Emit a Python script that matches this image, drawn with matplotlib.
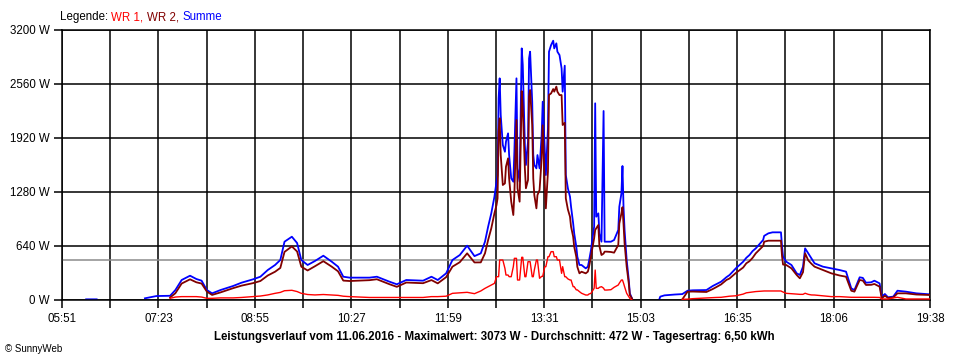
import numpy as np
import matplotlib
matplotlib.use('Agg')
import matplotlib.pyplot as plt

# Leistungsverlauf 11.06.2016 (Werte in W)
zeit = ['06:14', '06:24', '06:25', '07:10', '07:16', '07:21', '07:34', '07:39', '07:45', '07:53', '07:59',
        '08:04', '08:09', '08:14', '08:22', '08:34', '08:42', '08:53', '09:00', '09:07', '09:14',
        '09:19', '09:23', '09:30', '09:35', '09:39', '09:45', '09:52', '10:00', '10:08', '10:14',
        '10:19', '10:25', '10:44', '10:51', '11:03', '11:10', '11:19', '11:35', '11:43', '11:49',
        '11:57', '12:03', '12:10', '12:17', '12:24', '12:30', '12:34', '12:37', '12:40', '12:43',
        '12:45', '12:46', '12:47', '12:48', '12:49', '12:51', '12:53', '12:54', '12:56', '12:57',
        '12:59', '13:01', '13:02', '13:04', '13:05', '13:07', '13:09', '13:10', '13:12', '13:13',
        '13:15', '13:16', '13:17', '13:19', '13:20', '13:21', '13:23', '13:24', '13:26', '13:28',
        '13:29', '13:31', '13:32', '13:34', '13:35', '13:37', '13:39', '13:40', '13:42', '13:43',
        '13:45', '13:47', '13:48', '13:50', '13:51', '13:53', '13:55', '13:56', '13:58', '13:59',
        '14:01', '14:02', '14:04', '14:06', '14:10', '14:12', '14:13', '14:15', '14:16', '14:18',
        '14:19', '14:20', '14:22', '14:23', '14:25', '14:27', '14:28', '14:30', '14:34', '14:37',
        '14:41', '14:42', '14:44', '14:45', '14:46', '14:47', '14:49', '14:51', '14:52', '14:54',
        '14:55', '15:20', '15:21', '15:25', '15:35', '15:42', '15:47', '15:52', '16:05', '16:11',
        '16:14', '16:19', '16:24', '16:27', '16:33', '16:40', '16:43', '16:46', '16:49', '16:52',
        '16:59', '17:00', '17:04', '17:08', '17:16', '17:17', '17:18', '17:21', '17:26', '17:31',
        '17:34', '17:37', '17:39', '17:42', '17:45', '17:48', '17:56', '18:04', '18:12', '18:18',
        '18:23', '18:26', '18:31', '18:34', '18:37', '18:42', '18:45', '18:50', '18:52', '18:55',
        '18:58', '19:03', '19:07', '19:15', '19:25', '19:38']

wr1 = [None, None, None, None, None, None, 20, 35, 40, 40, 40,
       35, 20, 20, 25, 25, 30, 40, 47, 60, 79,
       90, 110, 115, 100, 79, 65, 60, 65, 59, 55,
       45, 40, 30, 30, 30, 30, 30, 30, 40, 40,
       45, 79, 85, 91, 75, 107, 138, 158, 178, 197,
       276, 276, 276, 474, 474, 474, 375, 296, 296, 276,
       276, 395, 494, 494, 237, 237, 506, 506, 276, 276,
       454, 454, 454, 276, 276, 355, 474, 474, 257, 280,
       280, 395, 395, 513, 513, 573, 573, 513, 513, 474,
       474, 316, 395, 276, 276, 250, 237, 237, 158, 158,
       120, 120, 99, 80, 59, 59, 70, 79, 100, 138,
       355, 138, 138, 150, 158, 140, 118, 118, 122, 150,
       178, 200, 237, 237, 200, 158, 79, 40, 20, 0,
       None, None, None, None, None, 8, 10, 16, 25, 30,
       30, 32, 40, 45, 50, 70, 85, 90, 95, 100,
       107, 107, 107, 107, 107, 100, 95, 79, 75, 70,
       67, 67, 80, 67, 60, 59, 50, 40, 40, 35,
       32, 32, 32, 32, 32, 32, 32, 30, 12, 12,
       12, 25, 32, 12, 12, 12]

wr2 = [None, None, None, None, None, None, 30, 80, 195, 245, 210,
       195, 100, 60, 90, 140, 170, 200, 225, 290, 335,
       380, 570, 635, 575, 395, 350, 400, 460, 395, 340,
       230, 225, 235, 246, 187, 156, 207, 199, 236, 197,
       271, 395, 448, 553, 445, 446, 553, 711, 849, 1027,
       1126, 1205, 2000, 2153, 1718, 1363, 1382, 1580, 1679, 1442,
       1166, 1007, 1263, 2133, 1323, 1165, 2476, 2279, 1561, 1324,
       1422, 2410, 2489, 2074, 1442, 1245, 1086, 1244, 1303, 1675,
       2070, 1362, 1086, 1522, 2430, 2449, 2500, 2469, 2529, 2469,
       2429, 2429, 2074, 2100, 1205, 1073, 987, 869, 751, 632,
       512, 393, 316, 335, 316, 336, 384, 513, 591, 731,
       830, 849, 889, 640, 533, 550, 573, 573, 569, 561,
       652, 906, 1027, 1100, 900, 672, 395, 197, 59, 20,
       None, None, None, None, None, 8, 99, 100, 95, 130,
       150, 185, 237, 255, 320, 385, 435, 460, 500, 553,
       640, 691, 703, 703, 703, 520, 420, 415, 375, 296,
       257, 330, 553, 470, 430, 395, 355, 316, 290, 276,
       110, 99, 237, 230, 178, 180, 190, 158, 20, 50,
       25, 30, 79, 79, 65, 59]

summe = [8, 8, None, 20, 35, 47, 50, 118, 237, 288, 249,
         229, 118, 79, 118, 166, 205, 245, 276, 355, 415,
         474, 691, 750, 675, 474, 415, 462, 525, 454, 395,
         276, 265, 265, 276, 217, 186, 237, 229, 276, 237,
         316, 474, 533, 644, 520, 553, 691, 869, 1027, 1224,
         1402, 1481, 2390, 2627, 2192, 1837, 1757, 1876, 1975, 1718,
         1442, 1402, 1757, 2627, 1560, 1402, 2982, 2785, 1837, 1600,
         1876, 2864, 2943, 2350, 1718, 1600, 1560, 1718, 1560, 1955,
         2350, 1757, 1481, 2035, 2943, 3022, 3073, 2982, 3042, 2943,
         2903, 2745, 2469, 2777, 1481, 1323, 1224, 1106, 909, 790,
         632, 513, 415, 415, 375, 395, 454, 592, 691, 869,
         2331, 987, 1027, 790, 691, 2240, 691, 691, 691, 711,
         830, 1106, 1264, 1588, 1100, 830, 474, 237, 79, 20,
         None, 5, 40, 55, 65, 70, 110, 115, 118, 166,
         185, 217, 270, 296, 375, 454, 500, 533, 580, 612,
         711, 760, 790, 802, 802, 640, 513, 454, 415, 316,
         296, 395, 612, 553, 494, 435, 395, 375, 355, 336,
         138, 118, 269, 262, 205, 210, 229, 197, 40, 71,
         32, 40, 110, 99, 79, 67]

x_ticks = ['05:51', '', '07:23', '', '08:55', '', '10:27', '', '11:59', '',
           '13:31', '', '15:03', '', '16:35', '', '18:06', '', '19:38']
y_ticks = [0, 640, 1280, 1920, 2560, 3200]
durchschnitt = 472


def minuten(s):
    h, m = s.split(':')
    return int(h) * 60 + int(m)


t = np.array([minuten(z) for z in zeit], dtype=float)
w1 = np.array(wr1, dtype=float)
w2 = np.array(wr2, dtype=float)
su = np.array(summe, dtype=float)

plt.rcParams['font.family'] = ['Liberation Sans', 'DejaVu Sans']

fig = plt.figure(figsize=(9.6, 3.6), dpi=100)
ax = fig.add_axes([62 / 960, 1 - 300 / 360, 868 / 960, 270 / 360])

t0, t1 = minuten('05:51'), minuten('19:38')
gitter = np.linspace(t0, t1, len(x_ticks))

ax.set_xlim(t0, t1)
ax.set_ylim(0, 3200)

# Gitter
for g in gitter:
    ax.axvline(g, color='black', lw=1.1, zorder=1)
for v in y_ticks:
    ax.axhline(v, color='black', lw=1.1, zorder=1)
ax.axhline(durchschnitt, color='#8c8c8c', lw=1.1, zorder=1.5)

ax.plot(t, su, color='#0000ff', lw=1.3, zorder=2)
ax.plot(t, w2, color='#800000', lw=1.3, zorder=3)
ax.plot(t, w1, color='#ff0000', lw=1.0, zorder=4)

ax.set_xticks(gitter)
ax.set_xticklabels(x_ticks)
ax.set_yticks(y_ticks)
ax.set_yticklabels([f'{v} W' for v in y_ticks])
ax.tick_params(axis='both', direction='out', length=6, width=1.1, labelsize=8.3, colors='black', pad=3)
for s in ax.spines.values():
    s.set_linewidth(1.1)

fig.text(494 / 960, 1 - 337 / 360,
         'Leistungsverlauf vom 11.06.2016 - Maximalwert: 3073 W - Durchschnitt: 472 W - Tagesertrag: 6,50 kWh',
         ha='center', va='center', fontsize=8.3, fontweight='bold')
fig.text(5 / 960, 1 - 349 / 360, '\u00a9 SunnyWeb', ha='left', va='center', fontsize=7)

# Legende in Farbe
teile = [('Legende: ', 'black'), ('WR 1, ', '#ff0000'), ('WR 2, ', '#800000'), ('Summe', '#0000ff')]
fig.canvas.draw()
xpos = 60
for txt, col in teile:
    tx = fig.text(xpos / 960, 1 - 17 / 360, txt, color=col, fontsize=8.3, ha='left', va='center')
    bb = tx.get_window_extent(renderer=fig.canvas.get_renderer())
    xpos = bb.x1

fig.savefig('out.png', dpi=100)
